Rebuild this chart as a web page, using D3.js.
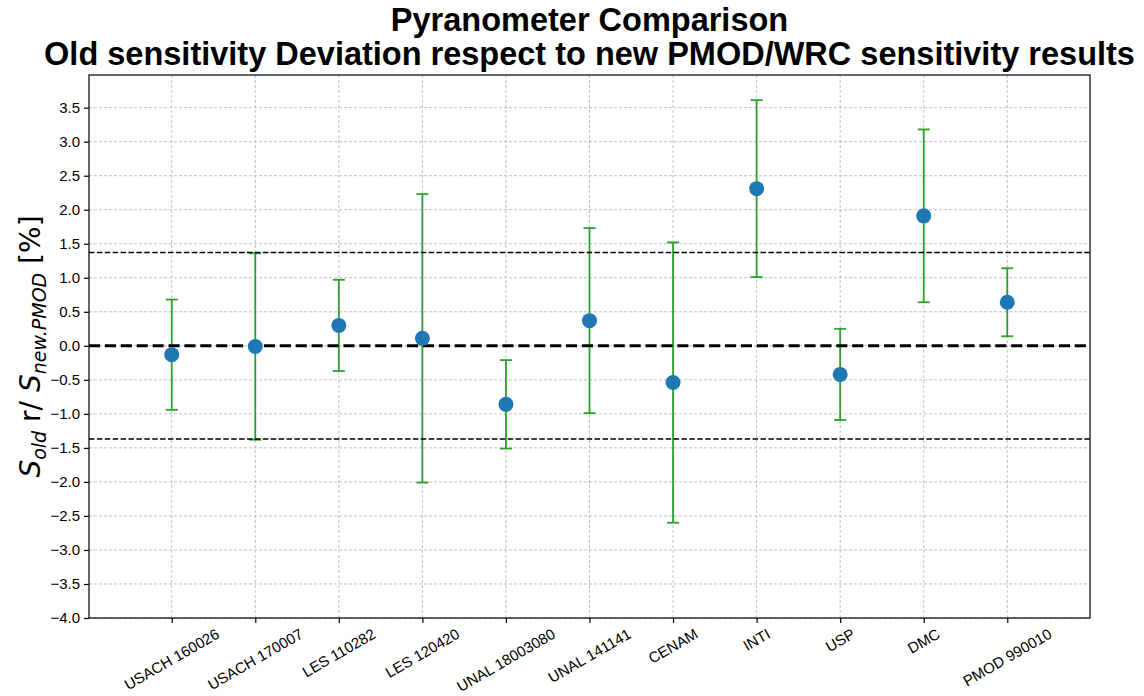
<!DOCTYPE html>
<html>
<head>
<meta charset="utf-8">
<script src="https://cdn.jsdelivr.net/npm/d3@7"></script>
<style>
  body { margin: 0; background: #fff; }
  svg { font-family: "Liberation Sans", Arial, sans-serif; }
</style>
</head>
<body>
<svg id="chart_svg" width="1144" height="696"></svg>
<script>
// data
var instruments = ["USACH 160026", "USACH 170007", "LES 110282", "LES 120420", "UNAL 18003080",
                   "UNAL 141141", "CENAM", "INTI", "USP", "DMC", "PMOD 990010"];
var deviation = [-0.13, -0.01, 0.30, 0.11, -0.86, 0.37, -0.54, 2.31, -0.42, 1.91, 0.64];
var uncertainty = [0.81, 1.37, 0.67, 2.12, 0.65, 1.36, 2.06, 1.30, 0.67, 1.27, 0.50];
var limitLine = 1.37;
var yTicks = d3.range(-4, 3.51, 0.5);

var margin = {top: 75, right: 54, bottom: 78, left: 89};
var width = 1144 - margin.left - margin.right;
var height = 696 - margin.top - margin.bottom;

var base = d3.select('#chart_svg');

var x = d3.scaleLinear()
            .domain([-0.99, instruments.length - 1 + 0.99])
            .range([0, width]);
var y = d3.scaleLinear()
            .domain([-4, 3.98])
            .range([height, 0]);

var plot = base.append("g")
                .attr("transform", "translate(" + margin.left + "," + margin.top + ")");

// grid
plot.append("g")
    .selectAll("line")
    .data(yTicks)
    .join("line")
    .attr("x1", 0).attr("x2", width)
    .attr("y1", d => y(d)).attr("y2", d => y(d))
    .attr("stroke", "#b0b0b0").attr("stroke-width", 0.8)
    .attr("stroke-dasharray", "3,2");
plot.append("g")
    .selectAll("line")
    .data(instruments)
    .join("line")
    .attr("x1", (d, i) => x(i)).attr("x2", (d, i) => x(i))
    .attr("y1", 0).attr("y2", height)
    .attr("stroke", "#b0b0b0").attr("stroke-width", 0.8)
    .attr("stroke-dasharray", "3,2");

// error bars
var bars = plot.append("g").attr("stroke", "#2ca02c").attr("stroke-width", 1.8);
instruments.forEach(function (name, i) {
    var lo = y(deviation[i] - uncertainty[i]);
    var hi = y(deviation[i] + uncertainty[i]);
    bars.append("line").attr("x1", x(i)).attr("x2", x(i)).attr("y1", lo).attr("y2", hi);
    bars.append("line").attr("x1", x(i) - 6).attr("x2", x(i) + 6).attr("y1", lo).attr("y2", lo);
    bars.append("line").attr("x1", x(i) - 6).attr("x2", x(i) + 6).attr("y1", hi).attr("y2", hi);
});

// reference lines
plot.append("line")
    .attr("x1", 0).attr("x2", width)
    .attr("y1", y(0)).attr("y2", y(0))
    .attr("stroke", "#000").attr("stroke-width", 3)
    .attr("stroke-dasharray", "11.1,4.8");
[limitLine, -limitLine].forEach(function (v) {
    plot.append("line")
        .attr("x1", 0).attr("x2", width)
        .attr("y1", y(v)).attr("y2", y(v))
        .attr("stroke", "#000").attr("stroke-width", 1.5)
        .attr("stroke-dasharray", "5.5,2.4");
});

// points
plot.append("g")
    .selectAll("circle")
    .data(deviation)
    .join("circle")
    .attr("cx", (d, i) => x(i))
    .attr("cy", d => y(d))
    .attr("r", 7.5)
    .attr("fill", "#1f77b4");

// axes
var yAxis = plot.append("g")
    .call(d3.axisLeft(y).tickValues(yTicks).tickSize(5).tickPadding(4)
            .tickFormat(d => d3.format(".1f")(d).replace("-", "\u2212")));
yAxis.select(".domain").remove();
yAxis.selectAll("text").attr("font-size", "15px").attr("fill", "#000")
    .attr("font-family", "'Liberation Sans', Arial, sans-serif");
yAxis.selectAll("line").attr("stroke-width", 1.2);

var xAxis = plot.append("g")
    .attr("transform", "translate(0," + height + ")")
    .call(d3.axisBottom(x).tickValues(d3.range(instruments.length)).tickSize(5).tickFormat(""));
xAxis.select(".domain").remove();
xAxis.selectAll("line").attr("stroke-width", 1.2);

// rotated category labels, bbox centered under the tick
var labels = plot.append("g").attr("transform", "translate(0," + height + ")");
instruments.forEach(function (name, i) {
    var t = labels.append("text")
        .text(name)
        .attr("font-size", "15px")
        .attr("text-anchor", "middle")
        .attr("dy", "0.35em");
    var w = t.node().getComputedTextLength();
    var h = 15;
    var boxH = w * 0.5 + h * 0.866;
    t.attr("transform", "translate(" + x(i) + "," + (8 + boxH / 2) + ") rotate(-30)");
});

// frame
plot.append("rect")
    .attr("width", width).attr("height", height)
    .attr("fill", "none").attr("stroke", "#000").attr("stroke-width", 1.2);

// title
var titleGroup = base.append("g")
    .attr("transform", "translate(" + (margin.left + width / 2) + ",0)");
titleGroup.append("text")
    .text("Pyranometer Comparison")
    .attr("y", 31)
    .attr("font-size", "32.5px").attr("font-weight", "bold")
    .attr("text-anchor", "middle");
titleGroup.append("text")
    .text("Old sensitivity Deviation respect to new PMOD/WRC sensitivity results")
    .attr("y", 65)
    .attr("font-size", "32.5px").attr("font-weight", "bold")
    .attr("text-anchor", "middle");

// y label (mathtext-like)
var ylab = base.append("text")
    .attr("transform", "translate(40," + (margin.top + height / 2) + ") rotate(-90)")
    .attr("text-anchor", "middle")
    .attr("font-family", "'DejaVu Sans', sans-serif")
    .attr("font-size", "28px");
ylab.append("tspan").attr("font-style", "italic").text("S");
ylab.append("tspan").attr("font-style", "italic").attr("font-size", "19px").attr("dy", "6").text("old");
ylab.append("tspan").attr("dy", "-6").text(" r/ ");
ylab.append("tspan").attr("font-style", "italic").text("S");
ylab.append("tspan").attr("font-style", "italic").attr("font-size", "19px").attr("dy", "6").text("new.PMOD");
ylab.append("tspan").attr("dy", "-6").text(" [%]");
</script>
</body>
</html>
